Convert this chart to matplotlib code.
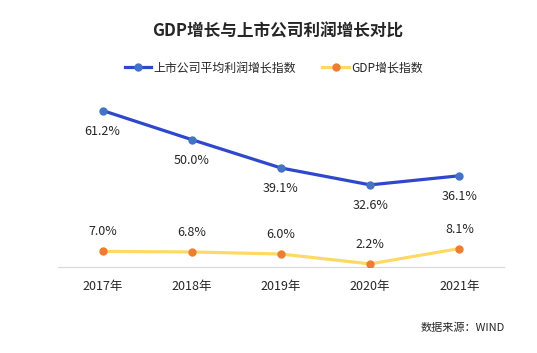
import matplotlib
matplotlib.use("Agg")
import matplotlib.pyplot as plt

plt.rcParams['font.family'] = ['Noto Sans CJK SC', 'DejaVu Sans']

# data
years = ["2017年", "2018年", "2019年", "2020年", "2021年"]
profit_index = [61.2, 50.0, 39.1, 32.6, 36.1]
gdp_index = [7.0, 6.8, 6.0, 2.2, 8.1]

fig = plt.figure(figsize=(5.37, 3.53), dpi=100)
ax = fig.add_axes([0.108, 0.2436, 0.8305, 0.486])

x = range(len(years))
ax.plot(x, profit_index, color="#2E47CC", lw=2.3, marker="o", ms=5,
        mfc="#4472C4", mec="#4472C4", label="上市公司平均利润增长指数", zorder=3)
ax.plot(x, gdp_index, color="#FFD966", lw=2.3, marker="o", ms=5,
        mfc="#ED7D31", mec="#ED7D31", label="GDP增长指数", zorder=3)

# value labels: blue below, yellow above
for i, v in enumerate(profit_index):
    ax.annotate(f"{v:.1f}%", (i, v), xytext=(0, -15), textcoords="offset points",
                ha="center", va="center", fontsize=9, color="#262626")
for i, v in enumerate(gdp_index):
    ax.annotate(f"{v:.1f}%", (i, v), xytext=(0, 14), textcoords="offset points",
                ha="center", va="center", fontsize=9, color="#262626")

ax.set_xlim(-0.5, 4.5)
ax.set_ylim(1, 67)
ax.set_xticks(list(x))
ax.set_xticklabels(years, fontsize=9, color="#262626")
ax.tick_params(axis="x", length=0, pad=9)
ax.set_yticks([])
for s in ["top", "right", "left"]:
    ax.spines[s].set_visible(False)
ax.spines["bottom"].set_color("#D9D9D9")

fig.text(0.518, 1 - 32 / 353, "GDP增长与上市公司利润增长对比", ha="center", va="center",
         fontsize=12, fontweight="bold", color="#262626")
fig.legend(loc="center", bbox_to_anchor=(0.51, 1 - 68 / 353), ncol=2, frameon=False,
           fontsize=8.6, handlelength=2.2, columnspacing=2.2, handletextpad=0.2,
           labelcolor="#262626")
fig.text(0.94, 1 - 328 / 353, "数据来源：WIND", ha="right", va="center",
         fontsize=8, color="#262626")

fig.savefig("out.png", dpi=100)
